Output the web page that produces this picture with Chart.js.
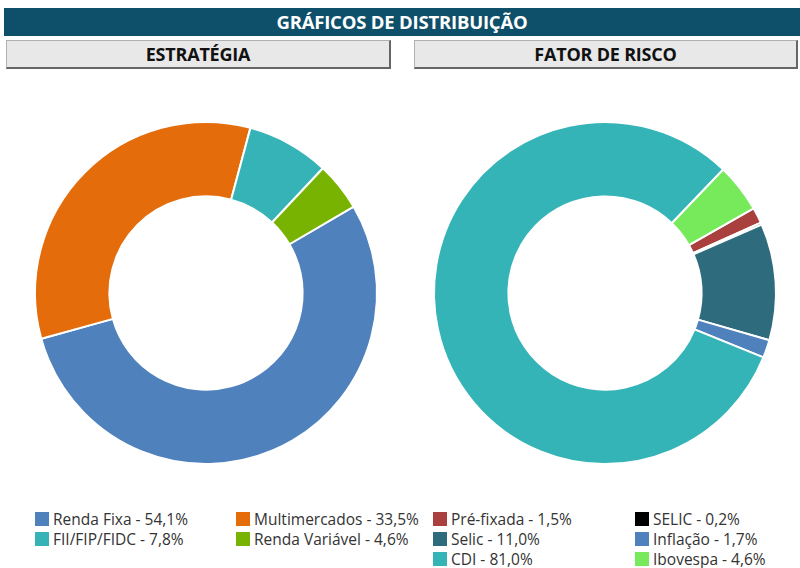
<!DOCTYPE html>
<html lang="pt">
<head>
  <meta charset="UTF-8">
  <title>Gráficos de Distribuição</title>
  <script src="https://cdn.jsdelivr.net/npm/chart.js"></script>
  <style>
    body { margin: 0; width: 800px; height: 568px; background: #fff; font-family: "Open Sans", Arial, sans-serif; position: relative; overflow: hidden; }
    #title { position: absolute; left: 4px; top: 8px; width: 796px; height: 28px; background: #0e4f69; color: #fff; font-weight: bold; font-size: 18.5px; line-height: 28px; text-align: center; letter-spacing: -0.2px; }
    .sub { position: absolute; top: 40px; height: 26px; background: #e8e8e8; border: 1px solid #b0b0b0; border-right: 2px solid #666; border-bottom: 2px solid #666; font-weight: bold; font-size: 18px; line-height: 26px; text-align: center; color: #111; letter-spacing: -0.2px; box-sizing: content-box; }
    #subLeft { left: 6px; width: 382px; }
    #subRight { left: 414px; width: 381px; }
    .chartBox { position: absolute; top: 113px; width: 400px; height: 360px; }
    #boxLeft { left: 6px; }
    #boxRight { left: 405px; }
    .legend { position: absolute; top: 512px; display: grid; grid-auto-rows: 20px; font-size: 15.5px; color: #333; }
    #legendLeft { left: 35px; grid-template-columns: 201px 190px; }
    #legendRight { left: 433px; grid-template-columns: 202px 160px; }
    .item { display: flex; align-items: flex-start; white-space: nowrap; }
    .swatch { width: 14px; height: 14px; margin-right: 4px; flex: none; }
    .item span { line-height: 15px; }
  </style>
</head>
<body>
  <div id="title">GRÁFICOS DE DISTRIBUIÇÃO</div>
  <div class="sub" id="subLeft">ESTRATÉGIA</div>
  <div class="sub" id="subRight">FATOR DE RISCO</div>

  <div class="chartBox" id="boxLeft"><canvas id="chartLeft"></canvas></div>
  <div class="chartBox" id="boxRight"><canvas id="chartRight"></canvas></div>

  <div class="legend" id="legendLeft"></div>
  <div class="legend" id="legendRight"></div>

  <script>
    // Estratégia
    const estrategiaLabels = ['Renda Fixa', 'Multimercados', 'FII/FIP/FIDC', 'Renda Variável'];
    const estrategiaValues = [54.1, 33.5, 7.8, 4.6];
    const estrategiaColors = ['#4f81bd', '#e46c0a', '#35b3b6', '#77b300'];

    // Fator de risco
    const riscoLabels = ['Pré-fixada', 'SELIC', 'Selic', 'Inflação', 'CDI', 'Ibovespa'];
    const riscoValues = [1.5, 0.2, 11.0, 1.7, 81.0, 4.6];
    const riscoColors = ['#a9403d', '#000000', '#2d6b7d', '#4f81bd', '#35b4b8', '#76ea5a'];

    function fmt(v) {
      return v.toFixed(1).replace('.', ',') + '%';
    }

    function makeDonut(id, labels, values, colors, rotation) {
      return new Chart(document.getElementById(id), {
        type: 'doughnut',
        data: {
          labels: labels,
          datasets: [{
            data: values,
            backgroundColor: colors,
            borderColor: '#ffffff',
            borderWidth: 2
          }]
        },
        options: {
          responsive: true,
          maintainAspectRatio: false,
          animation: false,
          rotation: rotation,
          radius: 171,
          cutout: '56.5%',
          layout: { padding: 0 },
          plugins: {
            legend: { display: false },
            tooltip: { enabled: false }
          }
        }
      });
    }

    function makeLegend(id, labels, values, colors) {
      const box = document.getElementById(id);
      labels.forEach((lab, i) => {
        const item = document.createElement('div');
        item.className = 'item';
        const sw = document.createElement('div');
        sw.className = 'swatch';
        sw.style.background = colors[i];
        const txt = document.createElement('span');
        txt.textContent = lab + ' - ' + fmt(values[i]);
        item.appendChild(sw);
        item.appendChild(txt);
        box.appendChild(item);
      });
    }

    makeDonut('chartLeft', estrategiaLabels, estrategiaValues, estrategiaColors, 59.7);
    makeDonut('chartRight', riscoLabels, riscoValues, riscoColors, 60.3);
    makeLegend('legendLeft', estrategiaLabels, estrategiaValues, estrategiaColors);
    makeLegend('legendRight', riscoLabels, riscoValues, riscoColors);
  </script>
</body>
</html>
